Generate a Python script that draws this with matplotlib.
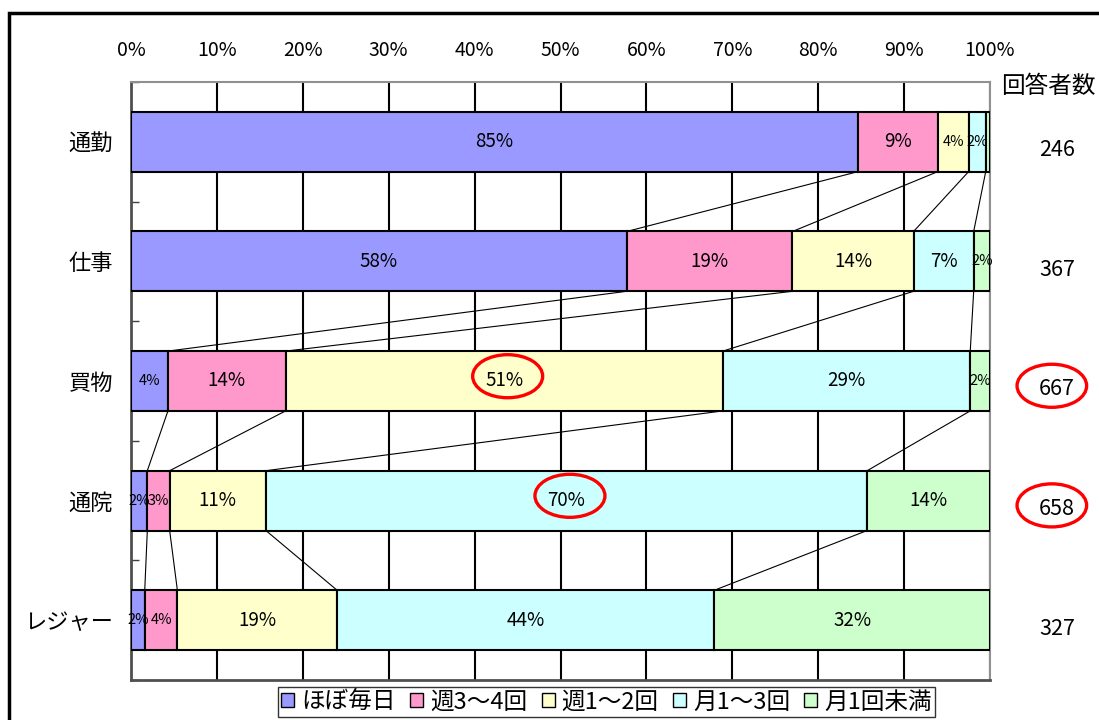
import numpy as np
import matplotlib
matplotlib.use("Agg")
import matplotlib.pyplot as plt
from matplotlib.patches import Patch, Ellipse, Rectangle

plt.rcParams['font.family'] = ['Noto Sans CJK JP', 'DejaVu Sans']

# ----------------------------
# data
# ----------------------------
categories = ["通勤", "仕事", "買物", "通院", "レジャー"]
series_names = ["ほぼ毎日", "週3～4回", "週1～2回", "月1～3回", "月1回未満"]
colors = ["#9999FF", "#FF99CC", "#FFFFCC", "#CCFFFF", "#CCFFCC"]

daily = [84.6, 57.7, 4.3, 1.9, 1.6]
week34 = [9.3, 19.3, 13.7, 2.6, 3.8]
week12 = [3.6, 14.1, 50.9, 11.2, 18.6]
month13 = [2.0, 7.0, 28.8, 70.0, 43.9]
less_monthly = [0.5, 1.9, 2.3, 14.3, 32.1]

respondents = [246, 367, 667, 658, 327]

# which labels get a red circle: (category index, series index)
circled_values = [(2, 2), (3, 3)]
circled_counts = [2, 3]

values = np.array([daily, week34, week12, month13, less_monthly])
cum = np.cumsum(values, axis=0)
starts = cum - values
y = np.arange(len(categories))
bar_h = 0.5

fig = plt.figure(figsize=(10.99, 7.2), dpi=100)
ax = fig.add_axes([131 / 1099, 1 - 680 / 720, 859 / 1099, 598 / 720])

# bars
for s in range(len(series_names)):
    ax.barh(y, values[s], left=starts[s], height=bar_h, color=colors[s],
            edgecolor="black", linewidth=1.5, zorder=3)
    for i in range(len(categories)):
        v = values[s][i]
        if v >= 1:
            # narrow segments get a slightly smaller label
            fs = 13.5 if v >= 5 else 10.5
            ax.text(starts[s][i] + v / 2, y[i], f"{v:.0f}%", ha="center",
                    va="center", fontsize=fs, zorder=5)

# series lines between bars
for i in range(len(categories) - 1):
    for s in range(len(series_names) - 1):
        ax.plot([cum[s][i], cum[s][i + 1]],
                [y[i] + bar_h / 2, y[i + 1] - bar_h / 2],
                color="black", lw=0.8, zorder=2)

# axes styling
ax.set_xlim(0, 100)
ax.set_ylim(len(categories) - 0.5, -0.5)
ax.set_xticks(np.arange(0, 101, 10))
ax.set_xticklabels([f"{t}%" for t in range(0, 101, 10)], fontsize=14)
ax.xaxis.tick_top()
ax.tick_params(axis="x", length=0, pad=15)
ax.grid(axis="x", color="black", lw=1.5, zorder=1)
ax.set_axisbelow(True)

ax.set_yticks(y)
ax.set_yticklabels(categories, fontsize=16)
ax.set_yticks(np.arange(-0.5, len(categories), 1), minor=True)
ax.tick_params(axis="y", which="major", length=0, pad=13)
ax.tick_params(axis="y", which="minor", direction="in", length=6,
               color="#404040", width=1)

for side in ["top", "right"]:
    ax.spines[side].set_color("#909090")
    ax.spines[side].set_linewidth(1.5)
for side in ["left", "bottom"]:
    ax.spines[side].set_color("#505050")
    ax.spines[side].set_linewidth(2)

# respondent counts on the right
count_x = 1.078
ax.text(1.0675, 0.993, "回答者数", transform=ax.transAxes, ha="center",
        va="center", fontsize=17)
for i, n in enumerate(respondents):
    ax.text(count_x, y[i] + 0.07, str(n),
            transform=ax.get_yaxis_transform(), ha="center", va="center",
            fontsize=15.5)

# red circles
for i, s in circled_values:
    cx = starts[s][i] + values[s][i] / 2 + 0.4
    ax.add_patch(Ellipse((cx, y[i] - 0.04), 8.15, 0.36, fill=False,
                         edgecolor="red", lw=2.4, zorder=6))
for i in circled_counts:
    ax.add_patch(Ellipse((1.072, y[i] + 0.04), 0.081, 0.36, fill=False,
                         edgecolor="red", lw=2.4, zorder=6, clip_on=False,
                         transform=ax.get_yaxis_transform()))

# legend (cut off at the bottom like the source)
handles = [Patch(facecolor=c, edgecolor="black", lw=1) for c in colors]
leg = fig.legend(handles, series_names, loc="upper center",
                 bbox_to_anchor=(0.552, 1 - 687 / 720), ncol=5, fontsize=17,
                 frameon=True, fancybox=False, edgecolor="black",
                 handlelength=0.55, handleheight=0.55, handletextpad=0.3,
                 columnspacing=0.6, borderpad=0.15, borderaxespad=0)
leg.get_frame().set_linewidth(1)

# outer border
fig.patches.append(Rectangle((9 / 1099, -0.1), 1.2, 1 - 13 / 720 + 0.1,
                             transform=fig.transFigure, fill=False,
                             edgecolor="black", lw=2.5))

fig.savefig("out.png", dpi=100)
